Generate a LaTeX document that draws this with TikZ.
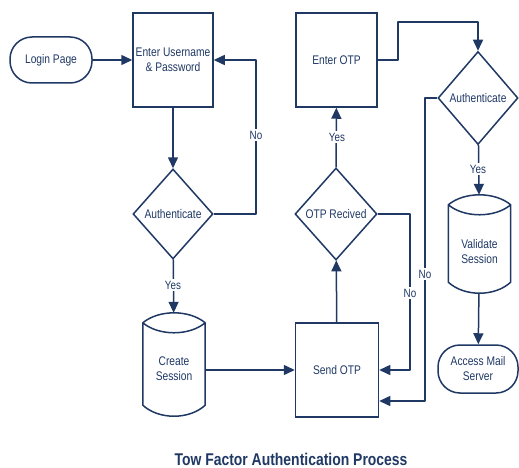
\documentclass[tikz,border=0pt]{standalone}
\usepackage{fontspec}
\setmainfont{Liberation Sans}[FakeStretch=0.82]
\usetikzlibrary{shapes.geometric,arrows.meta,calc}
\definecolor{ink}{RGB}{31,56,100}

% cylinder outline (lens-shaped top, curved bottom) around a named node
\newcommand\cylsketch[1]{%
  \draw[line]
    ($(#1.north west)+(0,10)$)
      .. controls ($(#1.north west)+(16,-3.3)$) and ($(#1.north east)+(-16,-3.3)$) .. ($(#1.north east)+(0,10)$)
      .. controls ($(#1.north east)+(-16,23.3)$) and ($(#1.north west)+(16,23.3)$) .. ($(#1.north west)+(0,10)$)
      -- ($(#1.south west)+(0,-11)$)
      .. controls ($(#1.south west)+(16,3.7)$) and ($(#1.south east)+(-16,3.7)$) .. ($(#1.south east)+(0,-11)$)
      -- ($(#1.north east)+(0,10)$);
}

\begin{document}
\begin{tikzpicture}[x=1pt,y=-1pt,
  every node/.style={text=ink, font=\fontsize{12.5}{15}\selectfont},
  line/.style={draw=ink, line width=1.5pt, line join=round},
  arr/.style={line, -{Triangle[length=11pt,width=10pt]}},
  box/.style={draw=ink, line width=1.5pt, minimum height=94pt, align=center, inner sep=0},
  term/.style={draw=ink, line width=1.5pt, rounded corners=22pt, minimum height=46pt, align=center, inner sep=0},
  dec/.style={diamond, draw=ink, line width=1.5pt, inner sep=0},
  cyl/.style={minimum width=62pt, inner sep=0},
  lbl/.style={fill=white, inner sep=1.5pt, font=\fontsize{12}{14}\selectfont}
]
\useasboundingbox (0,0) rectangle (519,468);

% nodes
\node[term, minimum width=82pt] (login) at (51,60) {Login Page};
\node[box, minimum width=80pt] (enter1) at (173,60) {Enter Username\\\& Password};
\node[dec, minimum width=80pt, minimum height=90pt] (auth1) at (173,214) {Authenticate};
\node[cyl, minimum height=103pt] (cs) at (174,364.5) {};
\node[align=center] (cstext) at (174,369) {Create\\Session};
\node[box, minimum width=83pt] (sendotp) at (337,370) {Send OTP};
\node[dec, minimum width=82pt, minimum height=92pt] (otprec) at (336,214) {OTP Recived};
\node[box, minimum width=81pt] (enterotp) at (336.5,60) {Enter OTP};
\node[dec, minimum width=80pt, minimum height=93pt] (auth2) at (478,98) {Authenticate};
\node[cyl, minimum height=98pt] (vs) at (479.5,244) {};
\node[align=center] (vstext) at (479.5,252) {Validate\\Session};
\node[term, minimum width=80pt, minimum height=48pt] (ams) at (478,369) {Access Mail\\Server};

\cylsketch{cs}
\cylsketch{vs}

% bend points
\coordinate (k1a) at (256,214);
\coordinate (k1b) at (256,60);
\coordinate (k2a) at (398,60);
\coordinate (k2b) at (398,22);
\coordinate (k2c) at (478,22);
\coordinate (k3a) at (425,98);
\coordinate (k3b) at (425,401);
\coordinate (k4a) at (410,214);
\coordinate (k4b) at (410,370);

% connectors
\draw[arr] (login) -- (enter1);
\draw[arr] (enter1) -- (auth1);
\draw[arr] (auth1.east) -- (k1a) -- (k1b) -- (enter1.east);
\draw[arr] (auth1) -- (cs);
\draw[arr] (cs.east |- sendotp.west) -- (sendotp.west);
\draw[arr] (sendotp) -- (otprec);
\draw[arr] (otprec) -- (enterotp);
\draw[arr] (enterotp.east) -- (k2a) -- (k2b) -- (k2c) -- (auth2.north);
\draw[arr] (auth2) -- (vs);
\draw[arr] (vs) -- (ams);
\draw[arr] (auth2.west) -- (k3a) -- (k3b) -- (sendotp.east |- k3b);
\draw[arr] (otprec.east) -- (k4a) -- (k4b) -- (sendotp.east);

% branch labels
\node[lbl] (no1) at (256,135) {No};
\node[lbl] (yes1) at (173,285) {Yes};
\node[lbl] (yes2) at (337,137) {Yes};
\node[lbl] (yes3) at (478,169) {Yes};
\node[lbl] (no2) at (425,274) {No};
\node[lbl] (no3) at (410,293) {No};

% caption
\node[font=\bfseries\fontsize{17}{20}\selectfont, anchor=base, inner sep=0] (title) at (291,465) {Tow Factor Authentication Process};
\end{tikzpicture}
\end{document}
